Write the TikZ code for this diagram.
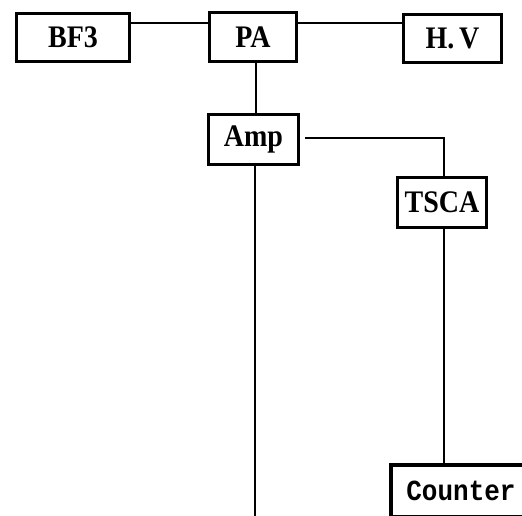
\documentclass[tikz,border=0pt]{standalone}
\usepackage{fontspec}
\setmainfont{Liberation Serif}
\newfontfamily\monofnt{Liberation Mono}
\newcommand{\tallbox}[1]{\scalebox{1}[1.12]{#1}}
\begin{document}
\begin{tikzpicture}[x=1pt,y=1pt,
  blk/.style={draw=black, line width=3.2pt, fill=white, inner sep=0pt,
    font=\fontsize{28}{32}\selectfont\bfseries},
  wire/.style={draw=black, line width=1.5pt}]
\clip (0,0) rectangle (522,516);
\fill[white] (0,0) rectangle (522,516);
% nodes
\node[blk, minimum width=113pt, minimum height=48pt] (bf3) at (73,478.5) {\tallbox{BF3}};
\node[blk, minimum width=87pt, minimum height=49pt] (pa) at (253,479) {\tallbox{PA}};
\node[blk, minimum width=98pt, minimum height=48pt] (hv) at (452.5,477.5) {\tallbox{H.\,V}};
\node[blk, minimum width=90pt, minimum height=50pt] (amp) at (253.5,376.5) {\tallbox{Amp}};
\node[blk, minimum width=89pt, minimum height=50pt] (tsca) at (442,313.5) {\tallbox{TSCA}};
\node[blk, minimum width=140pt, minimum height=52pt, font=\fontsize{26}{30}\selectfont\monofnt\bfseries] (cnt) at (461,25) {\tallbox{Counter}};
\coordinate (ampend) at (255,-2);
% connectors
\draw[wire] ([yshift=14.5pt]bf3.east) -- ([yshift=14pt]pa.west);
\draw[wire] ([yshift=14pt]pa.east) -- ([yshift=15.5pt]hv.west);
\draw[wire, line width=1.8pt] ([xshift=3pt]pa.south) -- ([xshift=2.5pt]amp.north);
\draw[wire] ([xshift=5pt,yshift=1.5pt]amp.east) -| ([xshift=2pt]tsca.north);
\draw[wire, line width=1.8pt] ([xshift=2pt]tsca.south) -- ([xshift=2pt]tsca.south |- cnt.north);
\draw[wire, line width=1.8pt] (amp.south -| ampend) -- (ampend);
\end{tikzpicture}
\end{document}
